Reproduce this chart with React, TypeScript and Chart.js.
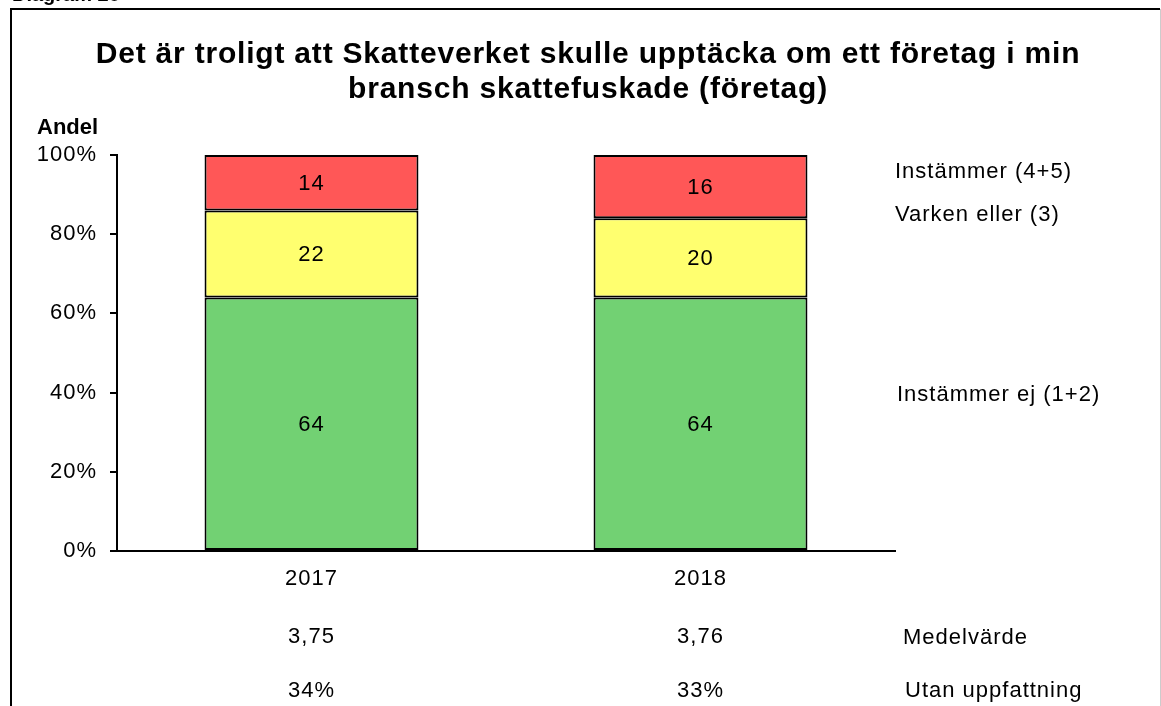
import React, { useEffect, useRef } from "react";
import { Chart, registerables } from "chart.js";

Chart.register(...registerables);

const categories = ["2017", "2018"];
const seriesNames = ["Instämmer ej (1+2)", "Varken eller (3)", "Instämmer (4+5)"];
const disagree = [64, 64];
const neither = [22, 20];
const agree = [14, 16];
const meanValues = ["3,75", "3,76"];
const noOpinion = ["34%", "33%"];
const yTicks = [0, 20, 40, 60, 80, 100];
const titleLines = [
  "Det är troligt att Skatteverket skulle upptäcka om ett företag i min",
  "bransch skattefuskade (företag)",
];

const FONT = "'Liberation Sans', Arial, sans-serif";

const decorPlugin = {
  id: "decor",
  beforeDraw(chart: any) {
    chart.ctx.letterSpacing = "1px";
  },
  afterDraw(chart: any) {
    const ctx = chart.ctx;
    const xs = chart.scales.x;
    ctx.save();
    // frame
    ctx.strokeStyle = "#000";
    ctx.lineWidth = 2;
    ctx.beginPath();
    ctx.moveTo(11, 710);
    ctx.lineTo(11, 9);
    ctx.lineTo(1160, 9);
    ctx.stroke();
    ctx.strokeStyle = "#ccc";
    ctx.lineWidth = 1;
    ctx.beginPath();
    ctx.moveTo(1160.5, 9);
    ctx.lineTo(1160.5, 710);
    ctx.stroke();

    // cut-off heading
    ctx.fillStyle = "#000";
    ctx.letterSpacing = "0px";
    ctx.font = `bold 20px ${FONT}`;
    ctx.textAlign = "left";
    ctx.textBaseline = "alphabetic";
    ctx.fillText("Diagram 28", 12, 1);

    // title
    ctx.font = `bold 30px ${FONT}`;
    ctx.letterSpacing = "0.8px";
    ctx.textAlign = "center";
    ctx.textBaseline = "middle";
    ctx.fillText(titleLines[0], 588, 55);
    ctx.fillText(titleLines[1], 588, 90);

    // axis title
    ctx.letterSpacing = "0px";
    ctx.font = `bold 22px ${FONT}`;
    ctx.textAlign = "left";
    ctx.fillText("Andel", 37, 128);

    // values in bars
    ctx.letterSpacing = "1px";
    ctx.font = `22px ${FONT}`;
    ctx.textAlign = "center";
    chart.data.datasets.forEach((ds: any, di: number) => {
      const meta = chart.getDatasetMeta(di);
      meta.data.forEach((bar: any, i: number) => {
        const y = (bar.y + bar.base) / 2;
        ctx.fillText(String(ds.data[i]), bar.x, y + 1);
      });
    });

    // rows below
    categories.forEach((c, i) => {
      const x = xs.getPixelForValue(i);
      ctx.fillText(meanValues[i], x, 637);
      ctx.fillText(noOpinion[i], x, 691);
    });

    // right-side labels
    ctx.textAlign = "left";
    ctx.fillText(seriesNames[2], 895, 172);
    ctx.fillText(seriesNames[1], 895, 215);
    ctx.fillText(seriesNames[0], 897, 395);
    ctx.fillText("Medelvärde", 903, 638);
    ctx.fillText("Utan uppfattning", 905, 691);
    ctx.restore();
  },
};

export default function App() {
  const ref = useRef<HTMLCanvasElement>(null);
  useEffect(() => {
    if (!ref.current) return;
    const chart = new Chart(ref.current, {
      type: "bar",
      data: {
        labels: categories,
        datasets: [
          { label: seriesNames[0], data: disagree, backgroundColor: "#72D173" },
          { label: seriesNames[1], data: neither, backgroundColor: "#FFFF6F" },
          { label: seriesNames[2], data: agree, backgroundColor: "#FF5757" },
        ].map((d) => ({
          ...d,
          borderColor: "#000",
          borderWidth: 2,
          borderSkipped: false,
          categoryPercentage: 1,
          barPercentage: 0.55,
        })),
      },
      options: {
        animation: false,
        responsive: false,
        maintainAspectRatio: false,
        layout: { padding: { left: 10, right: 266, top: 155, bottom: 0 } },
        plugins: {
          legend: { display: false },
          tooltip: { enabled: false },
          title: { display: false },
        },
        scales: {
          x: {
            stacked: true,
            grid: { display: false, drawTicks: false },
            border: { color: "#000", width: 2 },
            ticks: { color: "#000", font: { family: FONT, size: 22 }, padding: 15 },
            afterFit: (s: any) => {
              s.height = 155;
            },
          },
          y: {
            stacked: true,
            min: 0,
            max: 100,
            afterBuildTicks: (s: any) => {
              s.ticks = yTicks.map((v) => ({ value: v }));
            },
            grid: {
              drawOnChartArea: false,
              drawTicks: true,
              tickLength: 7,
              color: "#000",
              lineWidth: 2,
            },
            border: { color: "#000", width: 2 },
            ticks: {
              color: "#000",
              font: { family: FONT, size: 22 },
              padding: 13,
              callback: (v: any) => v + "%",
            },
            afterFit: (s: any) => {
              s.width = 107;
            },
          },
        },
      },
      plugins: [decorPlugin],
    });
    return () => chart.destroy();
  }, []);
  return (
    <div style={{ position: "absolute", left: 0, top: 0, width: 1161, height: 706, background: "#fff" }}>
      <canvas ref={ref} width={1161} height={706} style={{ width: 1161, height: 706 }} />
    </div>
  );
}
